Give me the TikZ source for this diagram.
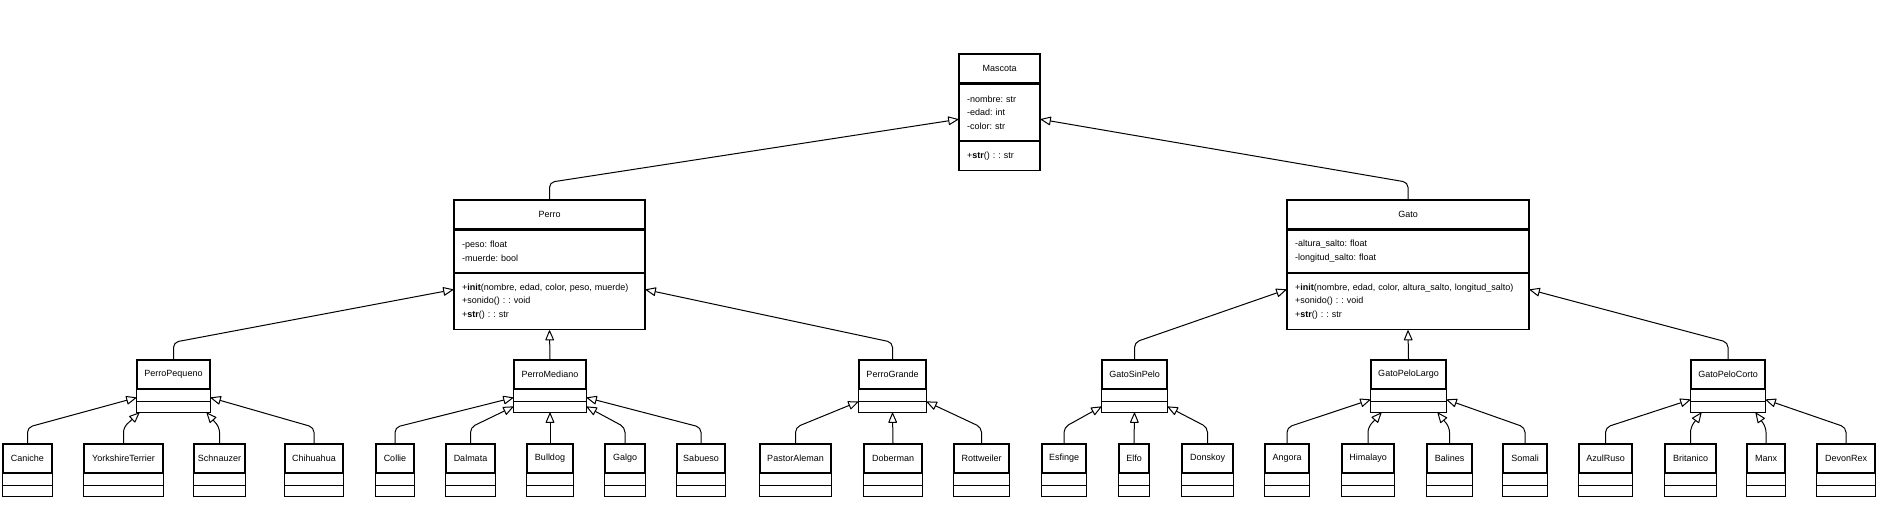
\documentclass[tikz,border=0pt]{standalone}
\usepackage{fontspec}
\setmainfont{Liberation Sans}
\frenchspacing
\usetikzlibrary{arrows.meta}

\tikzset{
  classhead/.style={draw, line width=1.3pt, minimum height=29pt, inner sep=0pt, font=\fontsize{9}{13.5}\selectfont},
  classline/.style={line width=1.3pt},
  classpart/.style={draw, line width=1.3pt, inner xsep=8pt, inner ysep=0pt, align=left, anchor=north, font=\fontsize{9}{13.5}\selectfont},
  inherit/.style={line width=1pt, rounded corners=5pt, -{Triangle[open, length=11pt, width=9pt, round=false]}}
}

\newcommand{\emptyclass}[4]{%
  \node[classhead, minimum width=#4pt] (#1) at (#2,#3) {#1};
  \draw[classline] (#1.south west) rectangle ([yshift=-23pt]#1.south east);
  \draw[classline] ([yshift=-11.5pt]#1.south west) -- ([yshift=-11.5pt]#1.south east);
}

\begin{document}
\begin{tikzpicture}[x=1pt, y=-1pt]
        \useasboundingbox (0,0) rectangle (1878,532);
        \node[classhead, minimum width=81pt] (Mascota) at (999.5,68.5) {Mascota};
        \node[classpart, text width=65pt, minimum height=56pt] (MascotaAttr) at (Mascota.south) {-nombre: str\\-edad: int\\-color: str};
        \node[classpart, text width=65pt, minimum height=29pt] (MascotaOps) at (MascotaAttr.south) {+\textbf{str}() : : str};
        \node[classhead, minimum width=191pt] (Perro) at (549.5,214.5) {Perro};
        \node[classpart, text width=175pt, minimum height=42pt] (PerroAttr) at (Perro.south) {-peso: float\\-muerde: bool};
        \node[classpart, text width=175pt, minimum height=56pt] (PerroOps) at (PerroAttr.south) {+\textbf{init}(nombre, edad, color, peso, muerde)\\+sonido() : : void\\+\textbf{str}() : : str};
        \node[classhead, minimum width=242pt] (Gato) at (1408,214.5) {Gato};
        \node[classpart, text width=226pt, minimum height=42pt] (GatoAttr) at (Gato.south) {-altura\_salto: float\\-longitud\_salto: float};
        \node[classpart, text width=226pt, minimum height=56pt] (GatoOps) at (GatoAttr.south) {+\textbf{init}(nombre, edad, color, altura\_salto, longitud\_salto)\\+sonido() : : void\\+\textbf{str}() : : str};
        \emptyclass{PerroPequeno}{173.5}{374.5}{73}
        \emptyclass{PerroMediano}{550}{374.5}{72}
        \emptyclass{PerroGrande}{892.5}{374.5}{67}
        \emptyclass{GatoSinPelo}{1134.5}{374.5}{65}
        \emptyclass{GatoPeloLargo}{1408.5}{374.5}{75}
        \emptyclass{GatoPeloCorto}{1728}{374.5}{74}
        \emptyclass{Caniche}{27.5}{458.5}{49}
        \emptyclass{YorkshireTerrier}{123.5}{458.5}{79}
        \emptyclass{Schnauzer}{219.5}{458.5}{51}
        \emptyclass{Chihuahua}{314}{458.5}{58}
        \emptyclass{Collie}{395}{458.5}{38}
        \emptyclass{Dalmata}{470.5}{458.5}{49}
        \emptyclass{Bulldog}{550}{458.5}{46}
        \emptyclass{Galgo}{625}{458.5}{40}
        \emptyclass{Sabueso}{701}{458.5}{48}
        \emptyclass{PastorAleman}{795.5}{458.5}{71}
        \emptyclass{Doberman}{893}{458.5}{58}
        \emptyclass{Rottweiler}{981.5}{458.5}{55}
        \emptyclass{Esfinge}{1064}{458.5}{44}
        \emptyclass{Elfo}{1134}{458.5}{30}
        \emptyclass{Donskoy}{1207.5}{458.5}{51}
        \emptyclass{Angora}{1287}{458.5}{44}
        \emptyclass{Himalayo}{1368}{458.5}{52}
        \emptyclass{Balines}{1449.5}{458.5}{45}
        \emptyclass{Somali}{1525}{458.5}{44}
        \emptyclass{AzulRuso}{1605.5}{458.5}{53}
        \emptyclass{Britanico}{1690.5}{458.5}{51}
        \emptyclass{Manx}{1766}{458.5}{38}
        \emptyclass{DevonRex}{1846}{458.5}{58}
        \draw[inherit] (Perro.north) -- ++(0,-17) -- ([yshift=-7pt]MascotaAttr.west);
        \draw[inherit] (Gato.north) -- ++(0,-17) -- ([yshift=-7pt]MascotaAttr.east);
        \draw[inherit] (PerroPequeno.north) -- ++(0,-17) -- ([yshift=12pt]PerroOps.west);
        \draw[inherit] (PerroMediano.north) -- (PerroOps.south);
        \draw[inherit] (PerroGrande.north) -- ++(0,-17) -- ([yshift=12pt]PerroOps.east);
        \draw[inherit] (GatoSinPelo.north) -- ++(0,-17) -- ([yshift=12pt]GatoOps.west);
        \draw[inherit] (GatoPeloLargo.north) -- (GatoOps.south);
        \draw[inherit] (GatoPeloCorto.north) -- ++(0,-17) -- ([yshift=12pt]GatoOps.east);
        \draw[inherit] (Caniche.north) -- ++(0,-16) -- ([yshift=-8pt]PerroPequeno.south west);
        \draw[inherit] (YorkshireTerrier.north) -- ++(0,-16) -- ([shift={(3pt,-23pt)}]PerroPequeno.south west);
        \draw[inherit] (Schnauzer.north) -- ++(0,-16) -- ([shift={(-4pt,-23pt)}]PerroPequeno.south east);
        \draw[inherit] (Chihuahua.north) -- ++(0,-16) -- ([yshift=-8pt]PerroPequeno.south east);
        \draw[inherit] (Collie.north) -- ++(0,-16) -- ([yshift=-8pt]PerroMediano.south west);
        \draw[inherit] (Dalmata.north) -- ++(0,-16) -- ([yshift=-17pt]PerroMediano.south west);
        \draw[inherit] (Bulldog.north) -- ([yshift=-23pt]PerroMediano.south);
        \draw[inherit] (Galgo.north) -- ++(0,-16) -- ([yshift=-17pt]PerroMediano.south east);
        \draw[inherit] (Sabueso.north) -- ++(0,-16) -- ([yshift=-8pt]PerroMediano.south east);
        \draw[inherit] (PastorAleman.north) -- ++(0,-16) -- ([yshift=-12pt]PerroGrande.south west);
        \draw[inherit] (Doberman.north) -- ([yshift=-23pt]PerroGrande.south);
        \draw[inherit] (Rottweiler.north) -- ++(0,-16) -- ([yshift=-12pt]PerroGrande.south east);
        \draw[inherit] (Esfinge.north) -- ++(0,-16) -- ([yshift=-17pt]GatoSinPelo.south west);
        \draw[inherit] (Elfo.north) -- ([yshift=-23pt]GatoSinPelo.south);
        \draw[inherit] (Donskoy.north) -- ++(0,-16) -- ([yshift=-17pt]GatoSinPelo.south east);
        \draw[inherit] (Angora.north) -- ++(0,-16) -- ([yshift=-10pt]GatoPeloLargo.south west);
        \draw[inherit] (Himalayo.north) -- ++(0,-16) -- ([shift={(11pt,-23pt)}]GatoPeloLargo.south west);
        \draw[inherit] (Balines.north) -- ++(0,-16) -- ([shift={(-9pt,-23pt)}]GatoPeloLargo.south east);
        \draw[inherit] (Somali.north) -- ++(0,-16) -- ([yshift=-10pt]GatoPeloLargo.south east);
        \draw[inherit] (AzulRuso.north) -- ++(0,-16) -- ([yshift=-10pt]GatoPeloCorto.south west);
        \draw[inherit] (Britanico.north) -- ++(0,-16) -- ([shift={(11pt,-23pt)}]GatoPeloCorto.south west);
        \draw[inherit] (Manx.north) -- ++(0,-16) -- ([shift={(-10pt,-23pt)}]GatoPeloCorto.south east);
        \draw[inherit] (DevonRex.north) -- ++(0,-16) -- ([yshift=-10pt]GatoPeloCorto.south east);
\end{tikzpicture}
\end{document}
